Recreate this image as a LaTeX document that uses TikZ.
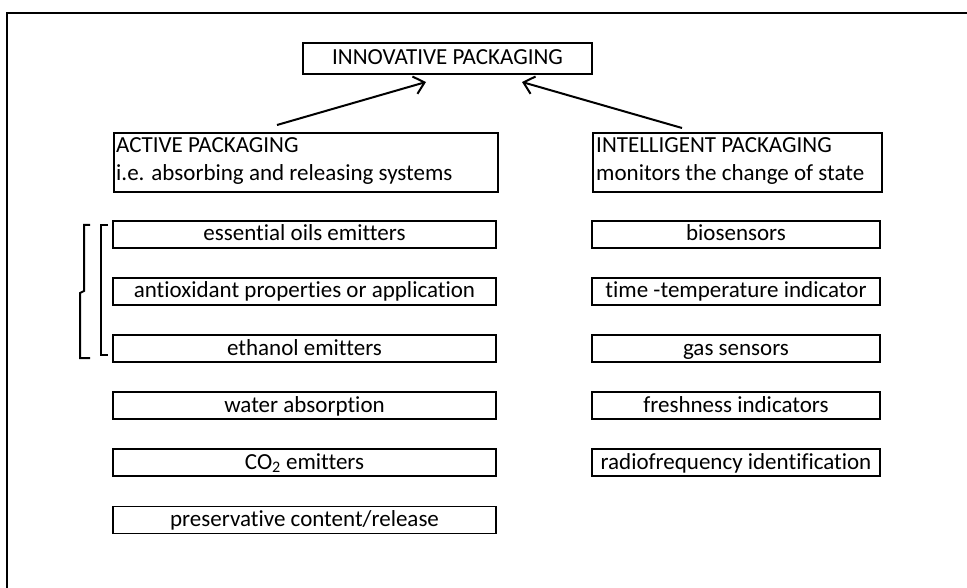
\documentclass[tikz,border=0pt]{standalone}
\usepackage{fontspec}
\setmainfont{Carlito}[Ligatures=NoCommon]
\usetikzlibrary{arrows.meta}
\begin{document}
\begin{tikzpicture}[x=1pt,y=-1pt,
  txt/.style={font=\fontsize{23}{27}\selectfont,text height=16pt,text depth=3pt},
  mainbox/.style={draw,line width=2.2pt,inner sep=0pt},
  itembox/.style={draw,line width=1.2pt,minimum width=383pt,minimum height=27pt,inner sep=0pt,txt},
  ritembox/.style={itembox,minimum width=288pt},
  conn/.style={line width=2pt,-{Straight Barb[length=10pt,width=18pt,line width=2pt]}},
  brk/.style={line width=2pt}]
\useasboundingbox (0,0) rectangle (967,588);
\draw[line width=2pt] (7,600) -- (7,13) -- (980,13);
% top box
\node[mainbox,minimum width=289pt,minimum height=31pt,txt] (top) at (447.5,58.5) {INNOVATIVE PACKAGING};
% active box
\node[mainbox,minimum width=384pt,minimum height=59pt,anchor=north west] (act) at (113,132) {};
\node[anchor=base west,inner sep=0pt,txt] (actA) at (116,153) {ACTIVE PACKAGING};
\node[anchor=base west,inner sep=0pt,txt] (actB) at (116,181) {i.e. absorbing and releasing systems};
% intelligent box
\node[mainbox,minimum width=289pt,minimum height=59pt,anchor=north west] (int) at (592,132) {};
\node[anchor=base west,inner sep=0pt,txt] (intA) at (596,153) {INTELLIGENT PACKAGING};
\node[anchor=base west,inner sep=0pt,txt] (intB) at (596,181) {monitors the change of state};
% arrows
\coordinate (a1) at (277,125);
\coordinate (a2) at (682,128);
\draw[conn] (a1) -- (426,82);
\draw[conn] (a2) -- (522,82);
% left items
\node[itembox] (l1) at (304.5,234.5) {essential oils emitters};
\node[itembox] (l2) at (304.5,291.5) {antioxidant properties or application};
\node[itembox] (l3) at (304.5,348.5) {ethanol emitters};
\node[itembox] (l4) at (304.5,405.5) {water absorption};
\node[itembox] (l5) at (304.5,462.5) {CO\textsubscript{2} emitters};
\node[itembox] (l6) at (304.5,520) {preservative content/release};
% right items
\node[ritembox] (r1) at (736,234.5) {biosensors};
\node[ritembox] (r2) at (736,291.5) {time -temperature indicator};
\node[ritembox] (r3) at (736,348.5) {gas sensors};
\node[ritembox] (r4) at (736,405.5) {freshness indicators};
\node[ritembox] (r5) at (736,462.5) {radiofrequency identification};
% brackets
\draw[brk] (108,225) -- (101,225) -- (101,355) -- (108,355);
\draw[brk] (90,225) -- (84,225) -- (84,291) -- (80,293) -- (80,358) -- (90,358);
\end{tikzpicture}
\end{document}
